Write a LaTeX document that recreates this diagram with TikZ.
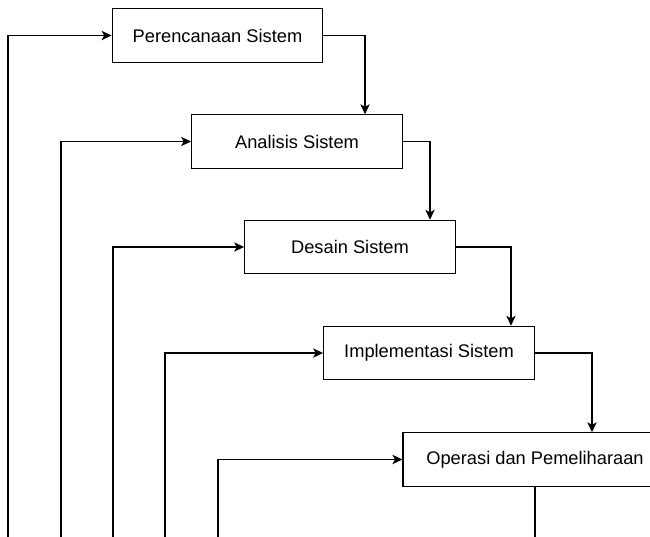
\documentclass[tikz,border=0pt]{standalone}
\usepackage{fontspec}
\setmainfont{Liberation Sans}
\usetikzlibrary{arrows.meta,calc}

\begin{document}
\begin{tikzpicture}[x=0.75pt,y=-0.75pt,
        tahap/.style={draw,line width=0.9pt,minimum width=158pt,minimum height=40pt,inner sep=0pt,font=\fontsize{13.7}{16}\selectfont},
        panah/.style={line width=0.9pt,-{Stealth[length=7.5pt,width=7pt,inset=2pt]}}]
        \clip (0,0) rectangle (650,536);

        \node[tahap] (plan) at (217.5,35.5) {Perencanaan Sistem};
        \node[tahap] (analisis) at (297,141.5) {Analisis Sistem};
        \node[tahap] (desain) at (350,247) {Desain Sistem};
        \node[tahap] (impl) at (429,353) {Implementasi Sistem};
        \node[tahap,minimum width=198pt] (ops) at (535,459.5) {Operasi dan Pemeliharaan};

        \draw[panah] (plan.east) -| ($(analisis.north)+(68,0)$);
        \draw[panah] (analisis.east) -| ($(desain.north)+(80,0)$);
        \draw[panah] (desain.east) -| ($(impl.north)+(82,0)$);
        \draw[panah] (impl.east) -| ($(ops.north)+(57,0)$);

        \coordinate (kembali1) at (8,540);
        \coordinate (kembali2) at (61,540);
        \coordinate (kembali3) at (113,540);
        \coordinate (kembali4) at (165,540);
        \coordinate (kembali5) at (218,540);
        \draw[panah] (kembali1) |- (plan.west);
        \draw[panah] (kembali2) |- (analisis.west);
        \draw[panah] (kembali3) |- (desain.west);
        \draw[panah] (kembali4) |- (impl.west);
        \draw[panah] (kembali5) |- (ops.west);

        \draw[line width=0.9pt] (ops.south) -- (ops.south |- kembali1);
    \end{tikzpicture}
\end{document}
